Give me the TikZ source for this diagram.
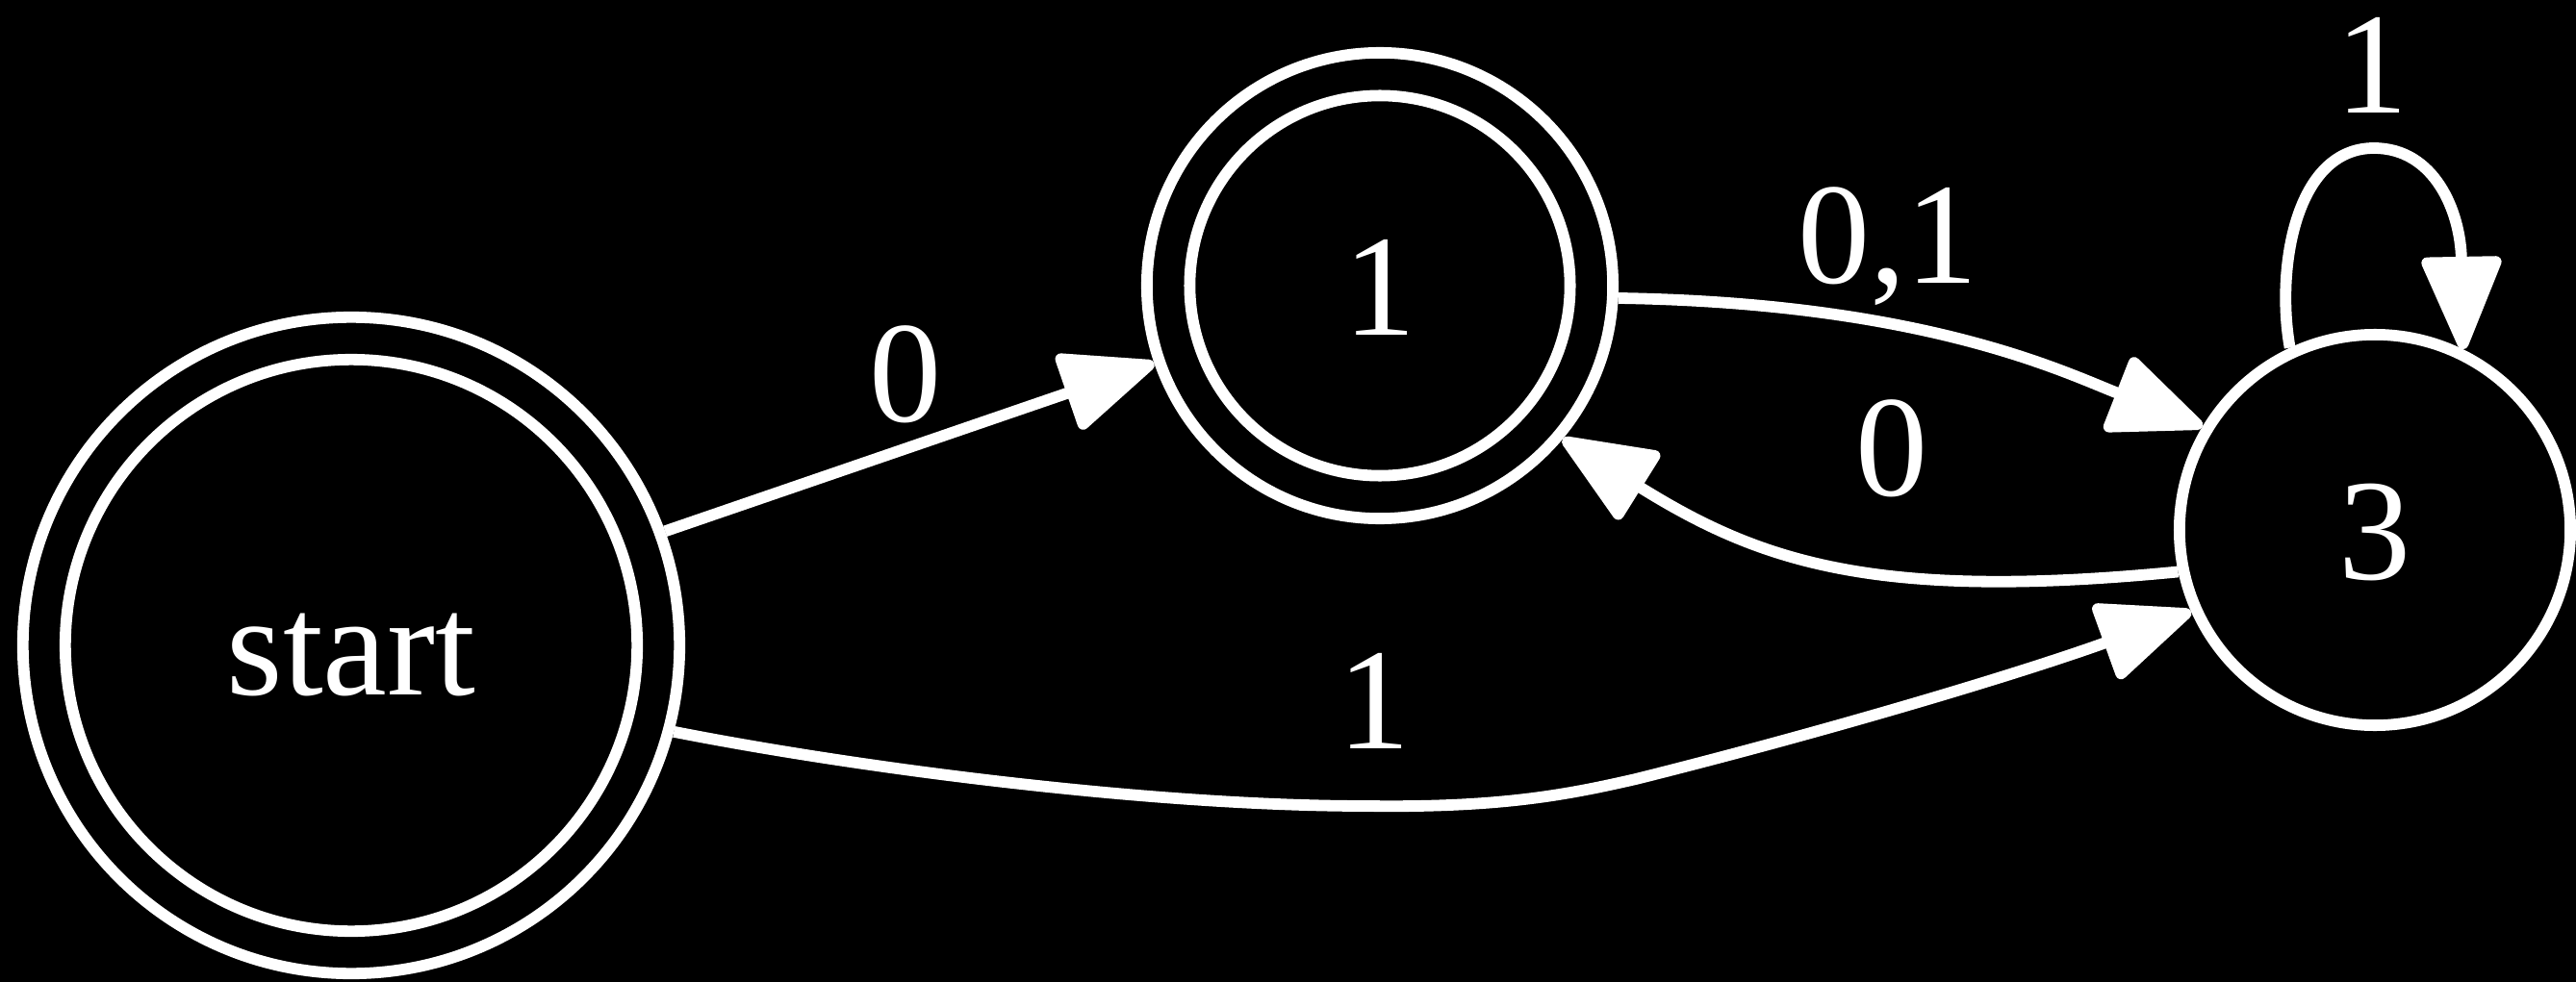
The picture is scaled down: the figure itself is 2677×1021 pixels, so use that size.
\documentclass[tikz,border=0pt]{standalone}
\usepackage{fontspec}
\setmainfont{Liberation Serif}
\usetikzlibrary{arrows.meta}
\begin{document}
\begin{tikzpicture}[x=0.01cm, y=-0.01cm,
  every node/.style={text=white, font=\fontsize{42.7pt}{51pt}\selectfont,
    text height=1.02cm, text depth=0pt, inner sep=0pt},
  ring/.style={circle, draw=white, line width=0.118cm},
  edge/.style={draw=white, line width=0.118cm,
    -{Triangle[length=1.06cm,width=0.86cm,round]}}]
\fill[black] (0,0) rectangle (2677,1021);
\useasboundingbox (0,0) rectangle (2677,1021);
% states
\node[ring, minimum size=6.82cm] (s) at (365,671) {start};
\node[ring, minimum size=5.94cm] (sin) at (365,671) {};
\node[ring, minimum size=4.84cm] (n1) at (1434,297) {1};
\node[ring, minimum size=3.95cm] (n1in) at (1434,297) {};
\node[ring, minimum size=4.06cm] (n3) at (2468,551) {3};
% edges
\draw[edge] (s.20) -- (n1.199);
\draw[edge] (n1.357) .. controls (2000,315) and (2145,387) .. (n3.149);
\draw[edge] (n3.192) .. controls (1950,625) and (1830,585) .. (n1.320);
\coordinate (lowbend) at (1700,810);
\draw[edge] (s.345) .. controls (900,800) and (1200,838) .. (1420,838)
  .. controls (1560,840) and (1630,826) .. (lowbend)
  .. controls (1900,760) and (2100,700) .. (n3.204);
\coordinate (looptop) at (2467,154);
\draw[edge] (n3.115) .. controls (2365,280) and (2385,154) .. (looptop)
  .. controls (2530,154) and (2557,220) .. (n3.64);
% labels
\node (l0a) at (941,387) {0};
\node (l01) at (1962,243) {0,1};
\node (l0b) at (1966,464) {0};
\node (l1a) at (1428,727) {1};
\node (l1b) at (2465,66) {1};
\end{tikzpicture}
\end{document}
